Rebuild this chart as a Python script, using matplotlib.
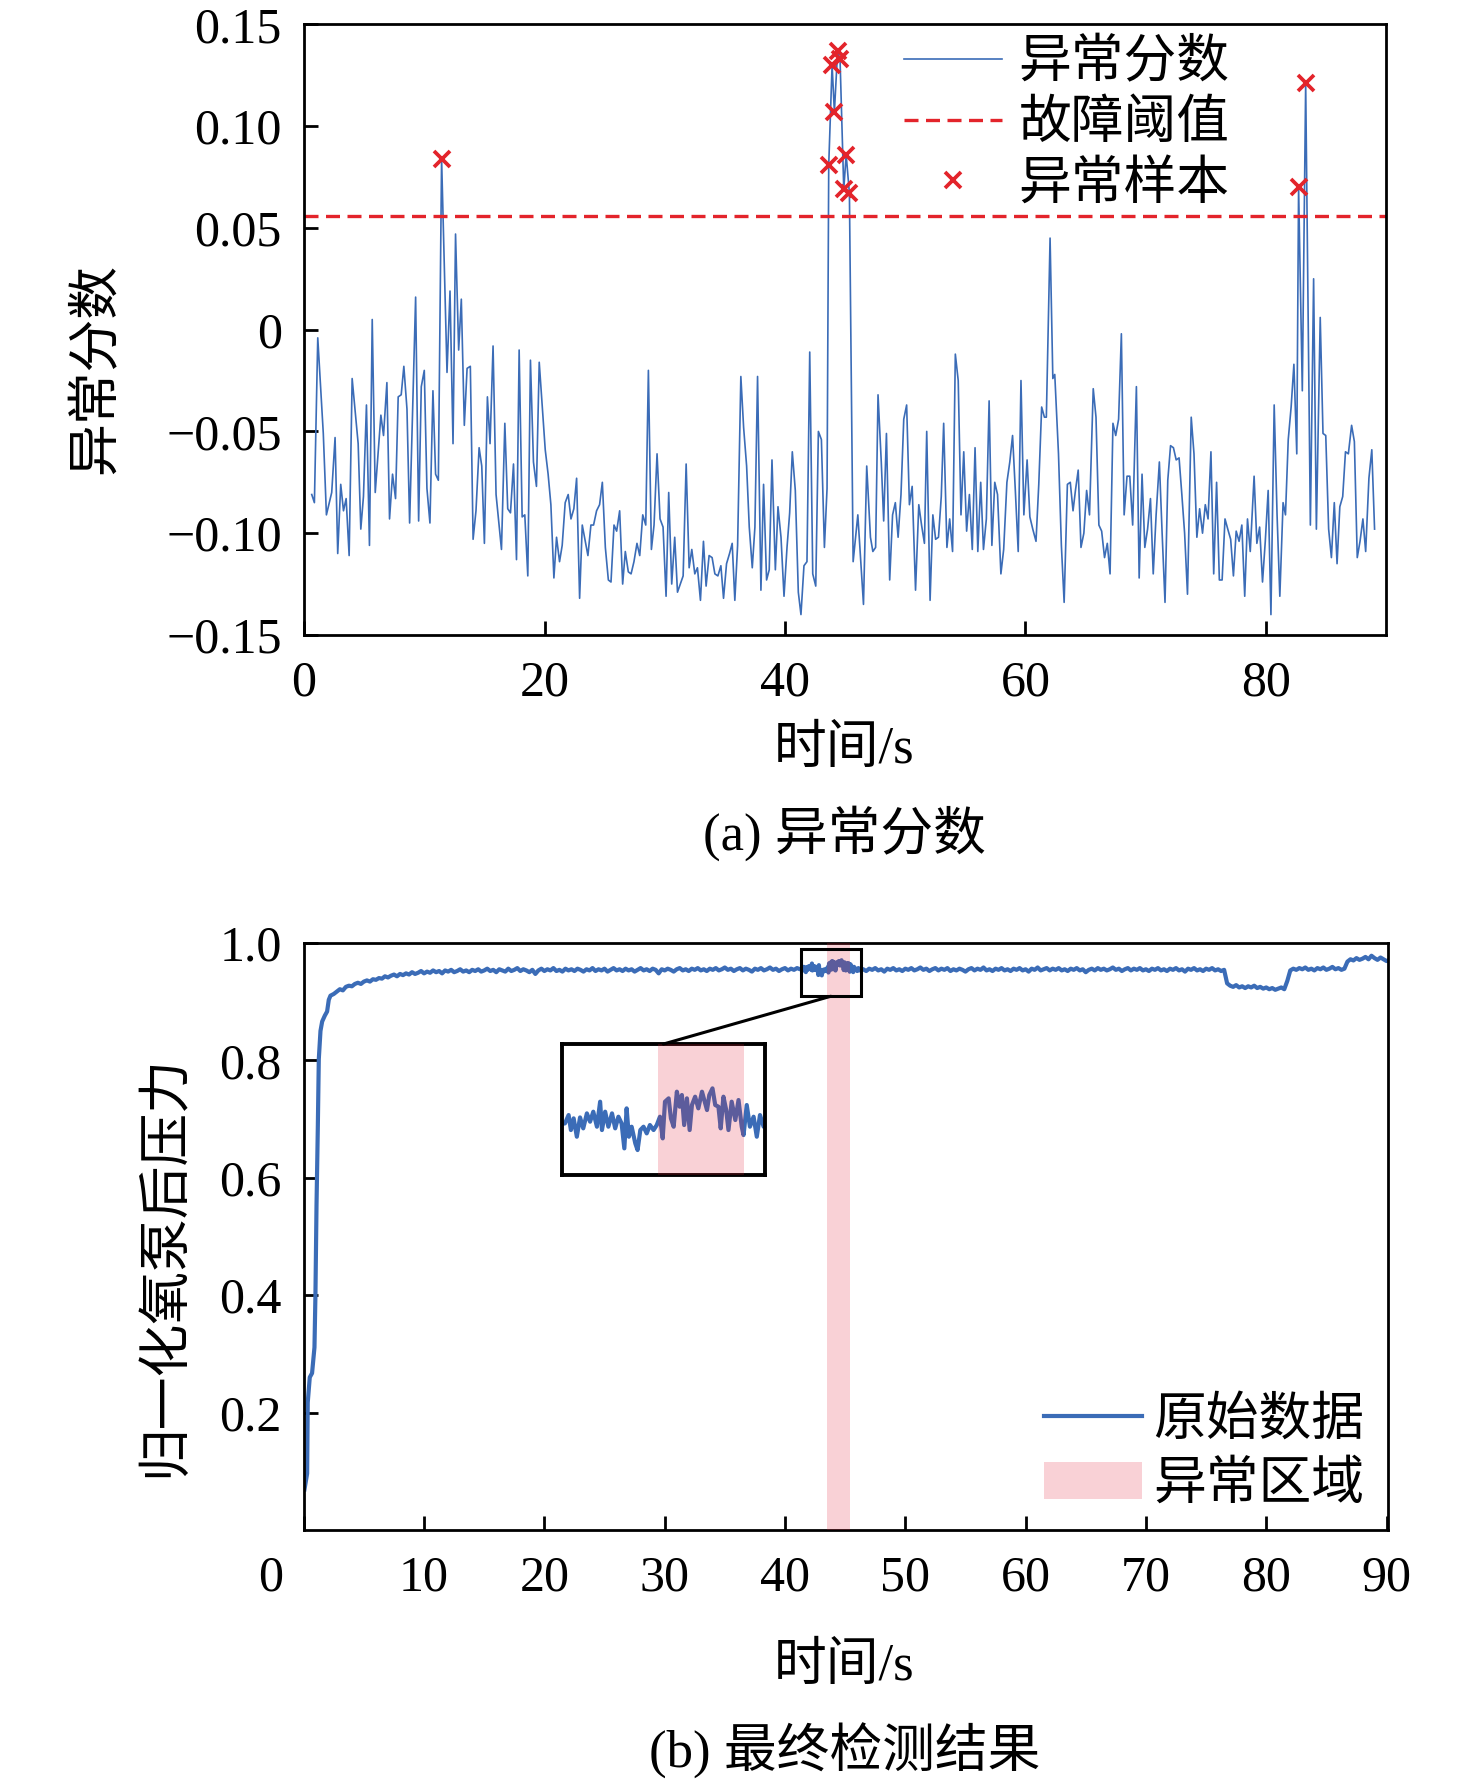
import numpy as np
import matplotlib
matplotlib.use("Agg")
import matplotlib.pyplot as plt
from matplotlib.patches import Rectangle, ConnectionPatch

plt.rcParams['font.family'] = ['Liberation Serif', 'Noto Sans CJK SC']
plt.rcParams['font.size'] = 36
plt.rcParams['axes.unicode_minus'] = True

BLUE = '#3B6CB7'
RED = '#E3242B'
SHADE = '#E51D32'

# ---------------- (a) anomaly score ----------------
score_t = [
    0.64, 0.86, 1.14, 1.6, 1.86, 2.3, 2.58, 2.8, 3.05, 3.28,
    3.5, 3.75, 4.0, 4.5, 4.72, 4.94, 5.19, 5.44, 5.67, 5.92,
    6.39, 6.61, 6.89, 7.11, 7.36, 7.61, 7.83, 8.08, 8.3, 8.56,
    8.78, 9.28, 9.53, 9.75, 10.0, 10.22, 10.47, 10.72, 10.94, 11.17,
    11.44, 11.89, 12.14, 12.39, 12.6, 12.86, 13.08, 13.33, 13.56, 13.83,
    14.06, 14.3, 14.56, 14.78, 15.0, 15.25, 15.47, 15.72, 15.97, 16.42,
    16.7, 16.94, 17.17, 17.42, 17.67, 17.89, 18.14, 18.36, 18.61, 18.83,
    19.08, 19.33, 19.56, 20.06, 20.3, 20.53, 20.78, 21.0, 21.25, 21.47,
    21.72, 21.97, 22.2, 22.44, 22.67, 22.92,
    23.14, 23.61, 23.86, 24.08, 24.33, 24.58, 24.81, 25.06, 25.31, 25.53,
    25.78, 26.0, 26.25, 26.5, 26.72, 26.97, 27.2, 27.44, 27.69, 27.92,
    28.17, 28.42, 28.64, 28.89, 29.11, 29.36, 29.61, 29.86, 30.11, 30.33,
    30.58, 30.83, 31.06, 31.53, 31.78, 32.03, 32.25, 32.5, 32.72, 32.97,
    33.22, 33.44, 33.69, 33.94, 34.17, 34.42, 34.67, 34.89, 35.14, 35.39,
    35.61, 35.83, 36.06, 36.33, 36.56, 36.81, 37.03, 37.28, 37.5, 37.72,
    38.0, 38.22, 38.47, 38.69, 38.92, 39.2, 39.42, 39.67, 39.92, 40.17,
    40.39, 40.61, 40.86, 41.11, 41.33, 41.58, 41.83, 42.06, 42.31, 42.56,
    42.78, 43.03, 43.28, 43.5,
    43.64, 43.92, 44.11, 44.38, 44.58, 44.89, 45.09, 45.36,
    45.67, 46.06, 46.53, 46.80, 47.11, 47.31, 47.54, 47.74, 48.01, 48.21,
    48.44, 48.71, 48.95, 49.18, 49.41, 49.65, 49.88, 50.12, 50.35, 50.58,
    50.86, 51.13, 51.36, 51.60, 51.79, 52.07, 52.30, 52.53, 52.77, 53.00,
    53.20, 53.47, 53.70, 53.94, 54.17, 54.41, 54.64, 54.87, 55.11, 55.34,
    55.58, 55.81, 56.04, 56.28, 56.51, 56.75, 56.98, 57.21, 57.45, 57.68,
    57.96, 58.19, 58.46, 58.70, 58.93, 59.16, 59.40, 59.63, 59.87, 60.14,
    60.37, 60.61, 60.88, 61.11, 61.35, 61.58, 61.74, 62.05, 62.28, 62.44,
    62.75, 62.99, 63.22, 63.49, 63.73, 63.96, 64.16, 64.39, 64.62, 64.86,
    65.09, 65.33, 65.64, 65.87, 66.11, 66.34, 66.58, 66.81, 67.04, 67.28,
    67.51, 67.75, 67.98, 68.21, 68.45, 68.68, 68.92, 69.23, 69.46, 69.70,
    69.93, 70.16, 70.40, 70.63, 70.87, 71.14, 71.37, 71.61, 71.84, 72.07,
    72.31, 72.54, 72.78, 73.01, 73.24, 73.48, 73.79, 74.02, 74.26, 74.49,
    74.73, 74.96, 75.19, 75.43, 75.66, 75.90, 76.13, 76.36, 76.60, 76.83,
    77.07, 77.30, 77.53, 77.77, 78.00, 78.24, 78.47, 78.70, 79.02, 79.25,
    79.48, 79.72, 79.95, 80.19, 80.42, 80.69, 80.93, 81.16, 81.43, 81.63,
    81.86, 82.10, 82.33, 82.57, 82.72, 83.03, 83.31, 83.70, 83.97, 84.20,
    84.52, 84.75, 84.98, 85.22, 85.45, 85.69, 85.92, 86.15, 86.39, 86.62,
    86.86, 87.13, 87.36, 87.60, 87.83, 88.07, 88.30, 88.57, 88.81, 89.04,
]
score_v = [
    -0.081, -0.085, -0.004, -0.051, -0.091, -0.080, -0.053, -0.110, -0.076, -0.089,
    -0.083, -0.111, -0.024, -0.056, -0.098, -0.082, -0.037, -0.106, 0.005, -0.080,
    -0.042, -0.052, -0.026, -0.093, -0.071, -0.083, -0.033, -0.032, -0.018, -0.039,
    -0.095, 0.016, -0.094, -0.028, -0.020, -0.078, -0.095, -0.030, -0.071, -0.074,
    0.084, -0.021, 0.019, -0.056, 0.047, -0.010, 0.015, -0.047, -0.019, -0.018,
    -0.103, -0.089, -0.058, -0.067, -0.105, -0.033, -0.056, -0.008, -0.081, -0.108,
    -0.046, -0.088, -0.090, -0.066, -0.113, -0.010, -0.092, -0.091, -0.121, -0.015,
    -0.065, -0.077, -0.016, -0.059, -0.071, -0.086, -0.122, -0.102, -0.114, -0.106,
    -0.085, -0.081, -0.093, -0.088, -0.073, -0.132,
    -0.096, -0.111, -0.096, -0.096, -0.089, -0.086, -0.075, -0.107, -0.123, -0.124,
    -0.096, -0.099, -0.089, -0.125, -0.109, -0.119, -0.120, -0.114, -0.105, -0.111,
    -0.091, -0.096, -0.020, -0.108, -0.096, -0.061, -0.093, -0.097, -0.131, -0.080,
    -0.125, -0.102, -0.129, -0.121, -0.066, -0.117, -0.108, -0.120, -0.117, -0.133,
    -0.104, -0.126, -0.111, -0.112, -0.120, -0.121, -0.116, -0.132, -0.115, -0.110,
    -0.105, -0.133, -0.106, -0.023, -0.048, -0.067, -0.097, -0.117, -0.097, -0.023,
    -0.128, -0.076, -0.123, -0.118, -0.064, -0.118, -0.087, -0.102, -0.131, -0.107,
    -0.090, -0.060, -0.079, -0.129, -0.140, -0.116, -0.114, -0.011, -0.120, -0.126,
    -0.050, -0.054, -0.107, -0.078,
    0.081, 0.130, 0.107, 0.137, 0.133, 0.069, 0.086, 0.067,
    -0.114, -0.091, -0.135, -0.067, -0.102, -0.109, -0.107, -0.032, -0.065, -0.094,
    -0.051, -0.123, -0.091, -0.085, -0.102, -0.081, -0.044, -0.037, -0.086, -0.077,
    -0.128, -0.086, -0.096, -0.105, -0.050, -0.133, -0.091, -0.103, -0.102, -0.082,
    -0.046, -0.107, -0.093, -0.109, -0.012, -0.025, -0.091, -0.060, -0.099, -0.081,
    -0.108, -0.058, -0.109, -0.075, -0.108, -0.093, -0.035, -0.106, -0.075, -0.081,
    -0.120, -0.108, -0.075, -0.065, -0.052, -0.079, -0.109, -0.025, -0.091, -0.064,
    -0.092, -0.098, -0.104, -0.076, -0.038, -0.043, -0.043, 0.045, -0.024, -0.022,
    -0.061, -0.106, -0.134, -0.076, -0.075, -0.089, -0.079, -0.069, -0.107, -0.100,
    -0.079, -0.091, -0.029, -0.043, -0.096, -0.099, -0.112, -0.105, -0.120, -0.046,
    -0.052, -0.044, -0.002, -0.091, -0.072, -0.072, -0.096, -0.028, -0.122, -0.071,
    -0.107, -0.098, -0.083, -0.120, -0.091, -0.065, -0.100, -0.134, -0.074, -0.057,
    -0.058, -0.064, -0.063, -0.081, -0.100, -0.130, -0.043, -0.061, -0.102, -0.088,
    -0.100, -0.086, -0.093, -0.060, -0.120, -0.075, -0.123, -0.123, -0.093, -0.098,
    -0.103, -0.121, -0.099, -0.104, -0.096, -0.131, -0.093, -0.109, -0.072, -0.105,
    -0.097, -0.124, -0.104, -0.079, -0.140, -0.037, -0.091, -0.131, -0.085, -0.091,
    -0.054, -0.038, -0.017, -0.061, 0.070, -0.030, 0.121, -0.096, 0.025, -0.098,
    0.006, -0.051, -0.052, -0.098, -0.112, -0.085, -0.115, -0.087, -0.082, -0.060,
    -0.061, -0.047, -0.055, -0.112, -0.104, -0.093, -0.109, -0.073, -0.059, -0.098,
]
threshold = 0.056

# ---------------- (b) normalised pressure ----------------
# start-up transient
start_t = [0.06, 0.28, 0.33, 0.5, 0.69, 0.89, 0.97, 1.06, 1.17, 1.25,
           1.39, 1.53, 1.75, 1.94, 2.08, 2.22]
start_v = [0.069, 0.096, 0.217, 0.260, 0.267, 0.311, 0.400, 0.553, 0.688, 0.802,
           0.850, 0.866, 0.876, 0.883, 0.903, 0.910]

# 2.5 s .. 41.25 s, every 0.25 s
grid_a_t = np.arange(2.5, 41.26, 0.25)
grid_a_v = [
    0.913, 0.917, 0.921, 0.919, 0.925, 0.927, 0.926, 0.930, 0.932, 0.930, 0.934, 0.936, 0.934, 0.938, 0.937, 0.940,
    0.939, 0.943, 0.941, 0.944, 0.946, 0.943, 0.947, 0.945, 0.948, 0.946, 0.950, 0.947, 0.949, 0.952, 0.948, 0.951,
    0.949, 0.953, 0.950, 0.952, 0.948, 0.953, 0.951, 0.954, 0.950, 0.952, 0.955, 0.951, 0.953, 0.950, 0.954, 0.952,
    0.955, 0.951, 0.953, 0.956, 0.952, 0.954, 0.950, 0.955, 0.953, 0.951, 0.956, 0.952, 0.954, 0.957, 0.952, 0.955,
    0.953, 0.950, 0.954, 0.947, 0.953, 0.956, 0.952, 0.955, 0.953, 0.957, 0.952, 0.954, 0.951, 0.956, 0.953, 0.955,
    0.952, 0.956, 0.954, 0.951, 0.955, 0.953, 0.957, 0.952, 0.955, 0.953, 0.956, 0.951, 0.954, 0.957, 0.953, 0.955,
    0.952, 0.956, 0.953, 0.955, 0.951, 0.954, 0.957, 0.953, 0.955, 0.952, 0.956, 0.954, 0.948, 0.955, 0.953, 0.956,
    0.954, 0.951, 0.955, 0.957, 0.953, 0.955, 0.952, 0.956, 0.954, 0.957, 0.953, 0.955, 0.952, 0.956, 0.954, 0.957,
    0.953, 0.955, 0.958, 0.954, 0.956, 0.952, 0.955, 0.957, 0.953, 0.956, 0.954, 0.951, 0.956, 0.954, 0.957, 0.953,
    0.955, 0.958, 0.954, 0.956, 0.952, 0.955, 0.957, 0.953, 0.956, 0.954, 0.957, 0.955,
]

# finer readings around the anomaly
fine_t = [
    41.47, 41.55, 41.60, 41.66, 41.73, 41.80, 41.87, 41.95, 42.02, 42.09,
    42.17, 42.24, 42.28, 42.35, 42.42, 42.50, 42.57, 42.64, 42.71, 42.77,
    42.82, 42.87, 42.93, 43.01, 43.06, 43.12, 43.19, 43.26, 43.33, 43.41,
    43.48, 43.55, 43.61, 43.66, 43.74, 43.79, 43.85, 43.92, 43.98, 44.03,
    44.08, 44.14, 44.20, 44.25, 44.32, 44.39, 44.47, 44.52, 44.58, 44.63,
    44.70, 44.76, 44.83, 44.88, 44.94, 45.00, 45.05, 45.12, 45.20, 45.27,
    45.34, 45.38, 45.45, 45.52, 45.60, 45.67, 45.74, 45.82, 45.90, 46.00,
    46.10, 46.20, 46.30,
]
fine_v = [
    0.9557, 0.9592, 0.9529, 0.9578, 0.9501, 0.9582, 0.9536, 0.9599, 0.9564, 0.9606,
    0.9543, 0.9648, 0.9529, 0.9606, 0.9543, 0.9599, 0.9536, 0.9585, 0.9557, 0.9452,
    0.9620, 0.9501, 0.9543, 0.9473, 0.9445, 0.9529, 0.9543, 0.9515, 0.9550, 0.9529,
    0.9550, 0.9585, 0.9494, 0.9648, 0.9662, 0.9578, 0.9543, 0.9690, 0.9627, 0.9676,
    0.9550, 0.9662, 0.9529, 0.9634, 0.9669, 0.9620, 0.9690, 0.9655, 0.9613, 0.9676,
    0.9704, 0.9634, 0.9627, 0.9536, 0.9669, 0.9613, 0.9529, 0.9648, 0.9571, 0.9655,
    0.9543, 0.9508, 0.9634, 0.9543, 0.9585, 0.9501, 0.9592, 0.9543, 0.9560, 0.9520,
    0.9570, 0.9530, 0.9560,
]

# 46.5 s .. 90.25 s, every 0.25 s
grid_b_t = np.arange(46.5, 90.26, 0.25)
grid_b_v = [
    0.955, 0.952, 0.956, 0.954, 0.957, 0.953, 0.955, 0.951, 0.956, 0.954, 0.957, 0.953, 0.955, 0.952, 0.956, 0.954,
    0.957, 0.953, 0.955, 0.958, 0.954, 0.956, 0.952, 0.955, 0.957, 0.953, 0.956, 0.954, 0.957, 0.952, 0.955, 0.953,
    0.956, 0.954, 0.951, 0.955, 0.957, 0.953, 0.956, 0.954, 0.958, 0.953, 0.955, 0.952, 0.956, 0.954, 0.957, 0.953,
    0.955, 0.952, 0.956, 0.954, 0.957, 0.953, 0.955, 0.951, 0.956, 0.954, 0.958, 0.953, 0.955, 0.957, 0.953, 0.956,
    0.954, 0.957, 0.953, 0.955, 0.952, 0.956, 0.954, 0.957, 0.953, 0.955, 0.950, 0.954, 0.956, 0.953, 0.957, 0.954,
    0.956, 0.953, 0.955, 0.958, 0.954, 0.956, 0.952, 0.955, 0.957, 0.953, 0.956, 0.954, 0.957, 0.953, 0.955, 0.952,
    0.956, 0.954, 0.957, 0.953, 0.955, 0.952, 0.956, 0.954, 0.957, 0.953, 0.955, 0.951, 0.956, 0.954, 0.957, 0.953,
    0.955, 0.952, 0.956, 0.954, 0.957, 0.953, 0.955, 0.952, 0.954, 0.931, 0.927, 0.925, 0.928, 0.924, 0.926, 0.923,
    0.926, 0.924, 0.927, 0.923, 0.925, 0.922, 0.924, 0.921, 0.923, 0.920, 0.922, 0.924, 0.921, 0.935, 0.953, 0.956,
    0.954, 0.957, 0.955, 0.958, 0.954, 0.956, 0.953, 0.957, 0.955, 0.958, 0.954, 0.956, 0.959, 0.955, 0.957, 0.954,
    0.956, 0.968, 0.972, 0.970, 0.974, 0.971, 0.973, 0.976, 0.972, 0.978, 0.974, 0.971, 0.975, 0.972, 0.969, 0.971,
]

anomaly_start, anomaly_end = 43.5, 45.4
zoom_x, zoom_y = (41.32, 46.30), (0.909, 0.990)
inset_x, inset_y = (41.4, 45.85), (0.934, 0.989)

score_t = np.array(score_t)
score_v = np.array(score_v)
pres_t = np.concatenate([start_t, grid_a_t, fine_t, grid_b_t])
pres_v = np.concatenate([start_v, grid_a_v, fine_v, grid_b_v])


def style_axis(ax):
    for s in ax.spines.values():
        s.set_linewidth(2.0)
    ax.tick_params(direction='in', length=10, width=2, top=False, right=False,
                   labelsize=36)
    ax.tick_params(axis='x', pad=18)
    ax.tick_params(axis='y', pad=16)


fig = plt.figure(figsize=(14.76, 17.85), dpi=100)

# top panel
ax1 = fig.add_axes([0.2060, 0.6443, 0.7331, 0.3420])
ax1.plot(score_t, score_v, color=BLUE, lw=1.2, label='异常分数')
ax1.axhline(threshold, color=RED, lw=2.4, dashes=(4.2, 2.25), label='故障阈值')
hit = score_v > threshold
ax1.plot(score_t[hit], score_v[hit], linestyle='none', marker='x', color=RED,
         ms=12, mew=2.7, label='异常样本')
ax1.set_xlim(0, 90)
ax1.set_ylim(-0.15, 0.15)
ax1.set_xticks([0, 20, 40, 60, 80])
ax1.set_yticks([-0.15, -0.10, -0.05, 0, 0.05, 0.10, 0.15])
ax1.set_yticklabels(['\u22120.15', '\u22120.10', '\u22120.05', '0', '0.05', '0.10', '0.15'])
style_axis(ax1)
ax1.legend(loc='upper left', bbox_to_anchor=(0.554, 0.975), frameon=False,
           borderpad=0, borderaxespad=0, handlelength=1.86, handletextpad=0.32,
           labelspacing=0.22, fontsize=38)

# bottom panel
ax2 = fig.add_axes([0.2058, 0.1429, 0.7344, 0.3289])
ax2.plot(pres_t, pres_v, color=BLUE, lw=3.0, label='原始数据', zorder=2)
ax2.axvspan(anomaly_start, anomaly_end, facecolor=SHADE, alpha=0.2, lw=0,
            label='异常区域', zorder=3)
ax2.set_xlim(0, 90.1)
ax2.set_ylim(0, 1.0)
ax2.set_xticks(list(range(0, 91, 10)))
ax2.set_xticklabels([''] + [str(v) for v in range(10, 91, 10)])
ax2.set_yticks([0.2, 0.4, 0.6, 0.8, 1.0])
ax2.set_yticklabels(['0.2', '0.4', '0.6', '0.8', '1.0'])
style_axis(ax2)
ax2.annotate('0', xy=(0, 0), xycoords=('data', 'axes fraction'),
             xytext=(-24, -18), textcoords='offset points',
             ha='center', va='top', fontsize=36)
ax2.add_patch(Rectangle((zoom_x[0], zoom_y[0]), zoom_x[1] - zoom_x[0],
                        zoom_y[1] - zoom_y[0], fill=False, ec='black',
                        lw=2.2, zorder=5))
ax2.legend(loc='upper left', bbox_to_anchor=(0.683, 0.227), frameon=False,
           borderpad=0, borderaxespad=0, handlelength=1.86, handletextpad=0.21,
           labelspacing=0.29, fontsize=38)

# inset
ins = fig.add_axes([0.3806, 0.3417, 0.1377, 0.0734])
ins.plot(pres_t, pres_v, color=BLUE, lw=3.0, zorder=2)
ins.axvspan(anomaly_start, anomaly_end, facecolor=SHADE, alpha=0.2, lw=0, zorder=3)
ins.set_xlim(*inset_x)
ins.set_ylim(*inset_y)
ins.set_xticks([])
ins.set_yticks([])
for s in ins.spines.values():
    s.set_linewidth(2.8)

con = ConnectionPatch(xyA=((zoom_x[0] + zoom_x[1]) / 2, zoom_y[0]), coordsA=ax2.transData,
                      xyB=(0.5, 1.0), coordsB=ins.transAxes, color='black', lw=2.2)
fig.add_artist(con)

# labels and captions
fig.text(0.0658, 0.7933, '异常分数', rotation=90, ha='center', va='center', fontsize=38)
fig.text(0.572, 0.5798, '时间/s', ha='center', va='center', fontsize=38)
fig.text(0.572, 0.5333, '(a) 异常分数', ha='center', va='center', fontsize=38)
fig.text(0.112, 0.2908, '归一化氧泵后压力', rotation=90, ha='center', va='center', fontsize=38)
fig.text(0.572, 0.0661, '时间/s', ha='center', va='center', fontsize=38)
fig.text(0.572, 0.019, '(b) 最终检测结果', ha='center', va='center', fontsize=38)

fig.savefig('out.png', dpi=100)
